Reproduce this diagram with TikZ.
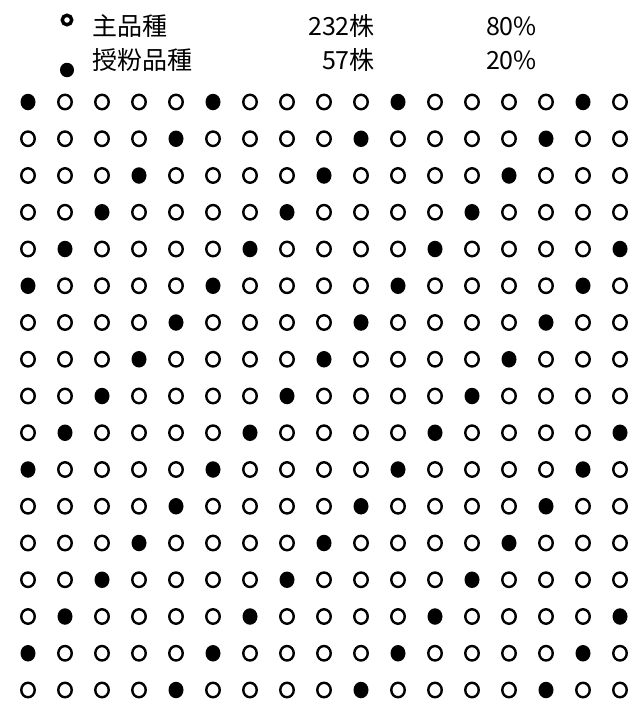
\documentclass[tikz,border=0pt]{standalone}
\usepackage{fontspec}
\newfontfamily\jpfont{Noto Sans CJK JP}
\usetikzlibrary{shapes.geometric}

\tikzset{
    tree/.style={draw, ellipse, line width=2.4pt, minimum width=13.5pt, minimum height=14.5pt, inner sep=0pt},
    pollen/.style={fill, ellipse, minimum width=15pt, minimum height=16.5pt, inner sep=0pt},
    legtext/.style={font=\jpfont\fontsize{25}{25}\selectfont, inner sep=0pt}
}

\begin{document}
\begin{tikzpicture}[x=1pt, y=-1pt]
    \useasboundingbox (0,0) rectangle (633,712);

    % legend
    \node[draw, circle, line width=3.4pt, minimum size=9.5pt, inner sep=0pt] (key-main) at (67,20) {};
    \node[pollen, minimum width=14pt, minimum height=14.5pt] (key-pollen) at (67,70) {};
    \node[legtext, anchor=base west] (name-main) at (92,35) {主品種};
    \node[legtext, anchor=base west] (name-pollen) at (92,69) {授粉品種};
    \node[legtext, anchor=base east] (count-main) at (375,35) {232株};
    \node[legtext, anchor=base east] (count-pollen) at (375,69) {57株};
    \node[legtext, anchor=base east] (share-main) at (537,35) {80\%};
    \node[legtext, anchor=base east] (share-pollen) at (537,69) {20\%};

    % planting field, 17 x 17
    \foreach \r in {1,...,17}{
        \foreach \c in {1,...,17}{
            \pgfmathtruncatemacro\k{mod(\r+\c,5)}
            \ifnum\k=2
                \node[pollen] (t-\r-\c) at ({28+37*(\c-1)},{102+36.75*(\r-1)}) {};
            \else
                \node[tree] (t-\r-\c) at ({28+37*(\c-1)},{102+36.75*(\r-1)}) {};
            \fi
        }
    }
\end{tikzpicture}
\end{document}
